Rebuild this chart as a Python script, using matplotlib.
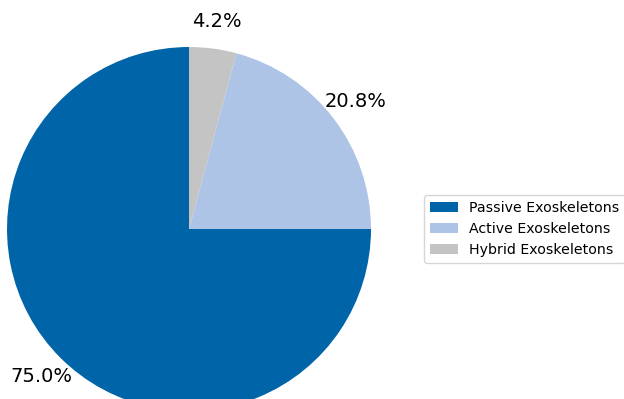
import matplotlib.pyplot as plt

# Market share by exoskeleton type
labels = ['Passive Exoskeletons', 'Active Exoskeletons', 'Hybrid Exoskeletons']
shares = [75.0, 20.8, 4.2]
colors = ['#0064a8', '#aec4e6', '#c4c4c4']

fig = plt.figure(figsize=(6.24, 3.99), dpi=100)
W, H = 624, 399
cx, cy, r = 189, 229, 182
side = 2.5 * r
ax = fig.add_axes([(cx - side / 2) / W, (H - cy - side / 2) / H, side / W, side / H])

wedges, texts, autotexts = ax.pie(shares, colors=colors, startangle=90,
                                  autopct='%1.1f%%', pctdistance=1.15,
                                  textprops={'fontsize': 14})
ax.set_aspect('equal')
ax.set_xlim(-1.25, 1.25)
ax.set_ylim(-1.25, 1.25)

fig.legend(wedges, labels, loc='center left', bbox_to_anchor=(417 / W, (H - 229) / H),
           fontsize=10.2, frameon=True)

fig.savefig('out.png', dpi=100)
